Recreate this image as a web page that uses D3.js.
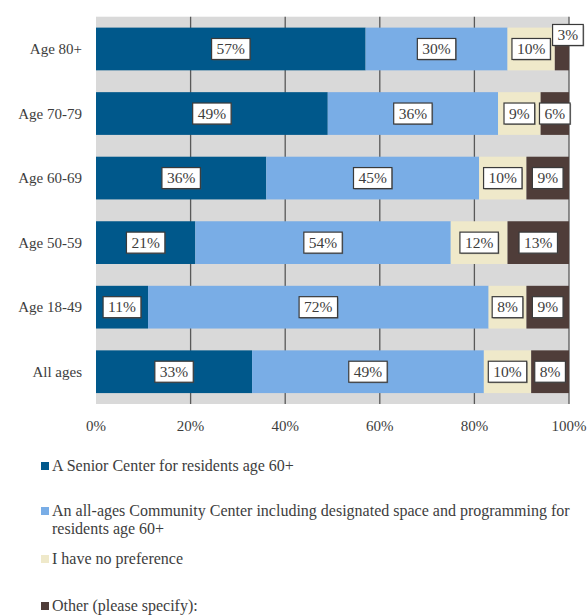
<!DOCTYPE html>
<html>
<head>
<meta charset="utf-8">
<script src="https://cdn.jsdelivr.net/npm/d3@7"></script>
<style>
  body { margin: 0; background: #fff; }
  svg text { font-family: "Liberation Serif", "DejaVu Serif", serif; fill: #3d3d3d; }
</style>
</head>
<body>
<svg id="chart" width="587" height="615"></svg>
<script>
// data
var categories = ["Age 80+", "Age 70-79", "Age 60-69", "Age 50-59", "Age 18-49", "All ages"];
var seniorCenter = [57, 49, 36, 21, 11, 33];
var communityCenter = [30, 36, 45, 54, 72, 49];
var noPreference = [10, 9, 10, 12, 8, 10];
var other = [3, 6, 9, 13, 9, 8];
var seriesKeys = ["senior", "community", "none", "other"];
var legendLabels = [
  "A Senior Center for residents age 60+",
  "An all-ages Community Center including designated space and programming for residents age 60+",
  "I have no preference",
  "Other (please specify):"
];
var xTicks = [0, 20, 40, 60, 80, 100];

var colors = ["#00588b", "#79ade6", "#efe9ca", "#4f3d39"];

var rows = categories.map(function (c, i) {
  return { cat: c, senior: seniorCenter[i], community: communityCenter[i], none: noPreference[i], other: other[i] };
});

var svg = d3.select("#chart");
var margin = { left: 96, right: 18, top: 16.7, bottom: 211 };
var width = 587 - margin.left - margin.right;
var height = 615 - margin.top - margin.bottom;

var x = d3.scaleLinear().domain([0, 100]).range([margin.left, margin.left + width]);
var y = d3.scaleBand().domain(categories)
  .range([margin.top, margin.top + height])
  .paddingInner(0.338).paddingOuter(0.169);

// plot background
svg.append("rect")
  .attr("x", x(0)).attr("y", margin.top)
  .attr("width", width).attr("height", height)
  .attr("fill", "#d9d9d9");

// gridlines
svg.append("g").selectAll("line")
  .data(xTicks.filter(function (d) { return d > 0 }))
  .enter().append("line")
  .attr("x1", function (d) { return x(d) }).attr("x2", function (d) { return x(d) })
  .attr("y1", margin.top).attr("y2", margin.top + height)
  .attr("stroke", "#595959").attr("stroke-width", 1.3);

var stacked = d3.stack().keys(seriesKeys)(rows);

var layers = svg.append("g").selectAll("g")
  .data(stacked)
  .enter().append("g")
  .attr("fill", function (d, i) { return colors[i] });

layers.selectAll("rect")
  .data(function (d) { return d })
  .enter().append("rect")
  .attr("x", function (d) { return x(d[0]) })
  .attr("y", function (d) { return y(d.data.cat) })
  .attr("width", function (d) { return x(d[1]) - x(d[0]) })
  .attr("height", y.bandwidth());

// value labels in white boxes
var labels = [];
stacked.forEach(function (layer) {
  layer.forEach(function (d) {
    var v = d[1] - d[0];
    var cx = x((d[0] + d[1]) / 2);
    var cy = y(d.data.cat) + y.bandwidth() / 2;
    // the small 3% sits outside the bar, up and to the right
    if (v < 5) { cx += 6; cy -= 14; }
    labels.push({ text: v + "%", cx: cx, cy: cy });
  });
});

var lab = svg.append("g").selectAll("g")
  .data(labels)
  .enter().append("g");

lab.append("text")
  .attr("x", function (d) { return d.cx })
  .attr("y", function (d) { return d.cy + 5 })
  .attr("text-anchor", "middle")
  .style("font-size", "15.5px")
  .text(function (d) { return d.text });

lab.each(function (d) {
  var g = d3.select(this);
  var w = g.select("text").node().getComputedTextLength() + 10;
  // soft shadow then the box
  g.insert("rect", "text")
    .attr("x", d.cx - w / 2 + 1).attr("y", d.cy - 9.5)
    .attr("width", w).attr("height", 21)
    .attr("fill", "#555").attr("opacity", 0.5);
  g.insert("rect", "text")
    .attr("x", d.cx - w / 2).attr("y", d.cy - 10.5)
    .attr("width", w).attr("height", 21)
    .attr("fill", "#fff")
    .attr("stroke", "#3a3a3a").attr("stroke-width", 1.2);
});

// category labels
svg.append("g").selectAll("text")
  .data(categories)
  .enter().append("text")
  .attr("x", 82)
  .attr("y", function (d) { return y(d) + y.bandwidth() / 2 + 5 })
  .attr("text-anchor", "end")
  .style("font-size", "15px")
  .text(function (d) { return d });

// x tick labels
svg.append("g").selectAll("text")
  .data(xTicks)
  .enter().append("text")
  .attr("x", function (d) { return x(d) })
  .attr("y", 431)
  .attr("text-anchor", "middle")
  .style("font-size", "15px")
  .text(function (d) { return d + "%" });

// legend
var legendY = [471, 516, 564, 611];
var legend = svg.append("g").selectAll("g")
  .data(legendLabels)
  .enter().append("g");

legend.append("rect")
  .attr("x", 41).attr("y", function (d, i) { return legendY[i] - 9 })
  .attr("width", 8).attr("height", 8)
  .attr("fill", function (d, i) { return colors[i] });

legend.append("text")
  .attr("x", 52)
  .attr("y", function (d, i) { return legendY[i] })
  .style("font-size", "16px")
  .each(function (d) {
    var t = d3.select(this);
    var words = d.split(" ");
    var line = [];
    var tspan = t.append("tspan").attr("x", 52).attr("dy", 0);
    words.forEach(function (w) {
      line.push(w);
      tspan.text(line.join(" "));
      if (tspan.node().getComputedTextLength() > 525 && line.length > 1) {
        line.pop();
        tspan.text(line.join(" "));
        line = [w];
        tspan = t.append("tspan").attr("x", 52).attr("dy", 18).text(w);
      }
    });
  });
</script>
</body>
</html>
